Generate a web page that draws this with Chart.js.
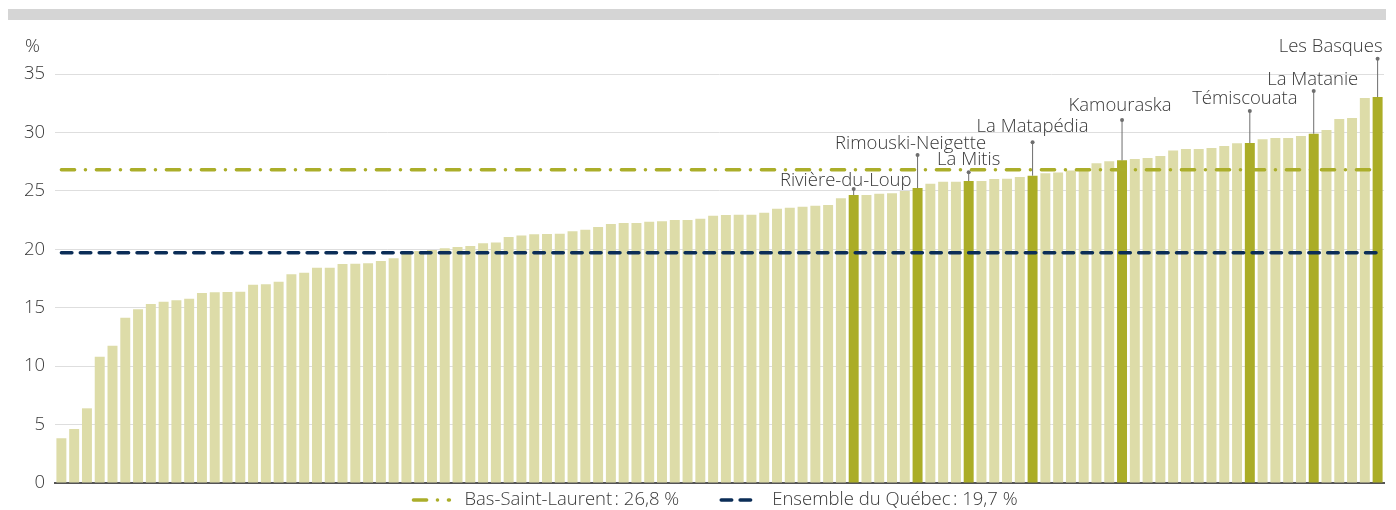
<!DOCTYPE html>
<html>
<head>
<meta charset="utf-8">
<script src="https://cdn.jsdelivr.net/npm/chart.js@4.4.1/dist/chart.umd.min.js"></script>
<style>
  html, body { margin: 0; padding: 0; background: #fff; }
</style>
</head>
<body>
<canvas id="chart" width="1396" height="510"></canvas>
<script>
// share of population, sorted ascending (one bar per MRC / territory)
const values = [
  3.83, 4.62, 6.39, 10.81, 11.75, 14.15, 14.86, 15.32, 15.52, 15.63,
  15.77, 16.26, 16.32, 16.34, 16.37, 16.97, 17.0, 17.23, 17.87, 18.0,
  18.43, 18.43, 18.74, 18.77, 18.8, 19.0, 19.23, 19.71, 19.85, 19.94,
  20.08, 20.19, 20.28, 20.51, 20.57, 21.05, 21.18, 21.28, 21.3, 21.34,
  21.54, 21.68, 21.91, 22.16, 22.25, 22.25, 22.36, 22.39, 22.5, 22.5,
  22.62, 22.87, 22.93, 22.96, 22.96, 23.13, 23.47, 23.56, 23.65, 23.73,
  23.79, 24.36, 24.64, 24.64, 24.76, 24.79, 24.99, 25.24, 25.61, 25.78,
  25.78, 25.84, 25.84, 26.01, 26.04, 26.18, 26.3, 26.5, 26.58, 26.75,
  26.7, 27.36, 27.53, 27.61, 27.72, 27.81, 27.98, 28.46, 28.58, 28.58,
  28.67, 28.84, 29.07, 29.09, 29.41, 29.52, 29.52, 29.69, 29.89, 30.21,
  31.15, 31.23, 32.95, 33.03
];

// MRC of Bas-Saint-Laurent and their position in the sorted list
const namedMRC = ['Rivière-du-Loup', 'Rimouski-Neigette', 'La Mitis', 'La Matapédia',
                  'Kamouraska', 'Témiscouata', 'La Matanie', 'Les Basques'];
const namedIndex = [62, 67, 71, 76, 83, 93, 98, 103];

const refLabels = ['Bas-Saint-Laurent\u202f: 26,8\u00a0%', 'Ensemble du Québec\u202f: 19,7\u00a0%'];
const refValues = [26.8, 19.7];

const yTicks = [0, 5, 10, 15, 20, 25, 30, 35];

// label placement (leader top and text centre in axis units, x shift in px)
const labelLayout = [
  { top: 25.16, text: 25.84, dx: -8 },
  { top: 28.07, text: 29.07, dx: -7 },
  { top: 26.59, text: 27.64, dx: 0 },
  { top: 29.15, text: 30.49, dx: 0 },
  { top: 31.06, text: 32.29, dx: -2 },
  { top: 31.83, text: 32.86, dx: -5 },
  { top: 33.54, text: 34.49, dx: -1 },
  { top: 36.3,  text: 37.34, dx: -47 }
];

const LIGHT = '#dddca8';
const DARK = '#abad27';
const OLIVE = '#abae2a';
const NAVY = '#0b2d57';
const TEXT = '#383838';
const FONT = '300 18.5px "Open Sans", sans-serif';

const categories = values.map((v, i) => {
  const k = namedIndex.indexOf(i);
  return k >= 0 ? namedMRC[k] : String(i + 1);
});
const barColors = values.map((v, i) => namedIndex.includes(i) ? DARK : LIGHT);

const refStyles = [
  { color: OLIVE, dash: [13.2, 10.8, 0.1, 10.9] },
  { color: NAVY, dash: [10.5, 8.4] }
];

Chart.defaults.font.family = '"Open Sans", sans-serif';
Chart.defaults.font.size = 18.5;
Chart.defaults.font.weight = 300;
Chart.defaults.color = TEXT;

const decor = {
  id: 'decor',
  beforeDraw(chart) {
    const ctx = chart.ctx;
    ctx.save();
    ctx.fillStyle = '#d5d5d5';
    ctx.fillRect(8, 9, 1378, 11);
    ctx.restore();
  },
  afterDatasetsDraw(chart) {
    const ctx = chart.ctx;
    const x = chart.scales.x, y = chart.scales.y;
    ctx.save();
    ctx.font = FONT;
    ctx.textAlign = 'center';
    ctx.textBaseline = 'middle';
    namedIndex.forEach((idx, k) => {
      const lay = labelLayout[k];
      const px = x.getPixelForValue(idx);
      const barTop = y.getPixelForValue(values[idx]);
      const dotY = y.getPixelForValue(lay.top);
      ctx.strokeStyle = '#6e6e6e';
      ctx.lineWidth = 1;
      ctx.beginPath();
      ctx.moveTo(px, dotY);
      ctx.lineTo(px, barTop);
      ctx.stroke();
      ctx.fillStyle = '#6e6e6e';
      ctx.beginPath();
      ctx.arc(px, dotY, 2, 0, Math.PI * 2);
      ctx.fill();
      ctx.fillStyle = TEXT;
      ctx.fillText(namedMRC[k], px + lay.dx, y.getPixelForValue(lay.text));
    });
    ctx.restore();
  },
  afterDraw(chart) {
    const ctx = chart.ctx;
    const area = chart.chartArea;
    ctx.save();
    ctx.font = FONT;
    ctx.fillStyle = TEXT;
    ctx.textBaseline = 'middle';
    ctx.textAlign = 'left';
    ctx.fillText('%', 25, 47);

    // legend
    const sample = 40, gapText = 13, gapItem = 40;
    const widths = refLabels.map(t => ctx.measureText(t).width);
    const total = widths.reduce((a, w) => a + sample + gapText + w, 0) + gapItem;
    let cx = (area.left + area.right) / 2 - 5 - total / 2;
    const ly = 500;
    refLabels.forEach((t, i) => {
      ctx.strokeStyle = refStyles[i].color;
      ctx.lineWidth = 3.5;
      ctx.lineCap = 'round';
      ctx.setLineDash(refStyles[i].dash);
      ctx.beginPath();
      ctx.moveTo(cx + 2, ly);
      ctx.lineTo(cx + sample - 2, ly);
      ctx.stroke();
      ctx.setLineDash([]);
      ctx.fillStyle = TEXT;
      ctx.fillText(t, cx + sample + gapText, ly);
      cx += sample + gapText + widths[i] + gapItem;
    });
    ctx.restore();
  }
};

new Chart(document.getElementById('chart'), {
  data: {
    labels: categories,
    datasets: [
      {
        type: 'line',
        label: refLabels[0],
        data: values.map(() => refValues[0]),
        borderColor: OLIVE,
        borderWidth: 3.5,
        borderDash: refStyles[0].dash,
        borderCapStyle: 'round',
        pointRadius: 0,
        order: 0
      },
      {
        type: 'line',
        label: refLabels[1],
        data: values.map(() => refValues[1]),
        borderColor: NAVY,
        borderWidth: 3.5,
        borderDash: refStyles[1].dash,
        borderCapStyle: 'round',
        pointRadius: 0,
        order: 1
      },
      {
        type: 'bar',
        label: 'MRC',
        data: values,
        backgroundColor: barColors,
        categoryPercentage: 1,
        barPercentage: 0.78,
        order: 2
      }
    ]
  },
  options: {
    responsive: false,
    animation: false,
    devicePixelRatio: 1,
    layout: { padding: { top: 74, right: 12, bottom: 27, left: 0 } },
    plugins: {
      legend: { display: false },
      tooltip: { enabled: false }
    },
    scales: {
      x: {
        grid: { display: false, drawTicks: false },
        ticks: { display: false },
        border: { display: true, color: '#555555', width: 2 }
      },
      y: {
        min: 0,
        max: 35,
        afterFit(scale) { scale.width = 55; },
        afterBuildTicks(scale) { scale.ticks = yTicks.map(v => ({ value: v })); },
        grid: { color: '#dedede', lineWidth: 1, drawTicks: false },
        border: { display: false },
        ticks: { padding: 10, color: TEXT, font: { size: 18.5, weight: 300 } }
      }
    }
  },
  plugins: [decor]
});
</script>
</body>
</html>
